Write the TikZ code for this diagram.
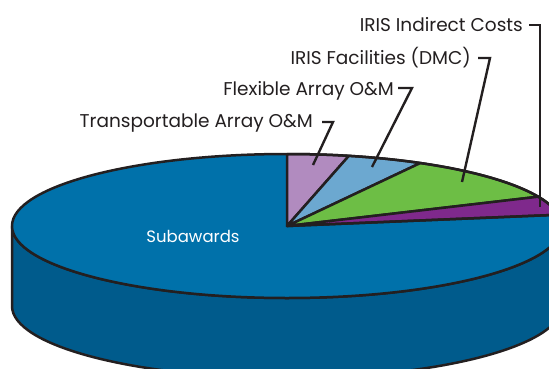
\documentclass[tikz,border=0pt]{standalone}
\usepackage{fontspec}
\setmainfont{Poppins}
\usetikzlibrary{calc}
\definecolor{subtop}{RGB}{0,113,170}
\definecolor{subside}{RGB}{0,91,140}
\definecolor{slicepink}{RGB}{177,139,191}
\definecolor{sliceblue}{RGB}{108,168,208}
\definecolor{slicegreen}{RGB}{109,190,69}
\definecolor{slicepurple}{RGB}{127,41,140}
\definecolor{ink}{RGB}{35,31,32}
\tikzset{
  outline/.style={draw=ink, line width=2.5pt, line join=round},
  leader/.style={draw=ink, line width=2.4pt, line join=miter},
  lbl/.style={font=\fontsize{18.5}{22}\selectfont, text=ink, inner sep=0pt, anchor=base east},
}
\begin{document}
\begin{tikzpicture}[x=1pt,y=1pt]
  \useasboundingbox (0,0) rectangle (549,368);
  \clip (0,0) rectangle (549,368);
  % geometry of the disc
  \def\rx{275}\def\ry{72}
  \coordinate (C) at (287,142);
  \coordinate (B) at (287,62);
  % side wall
  \path[fill=subside, outline]
    ([xshift=-\rx]C) -- ([xshift=-\rx]B)
    arc[start angle=180, end angle=360, x radius=\rx, y radius=\ry]
    -- ([xshift=\rx]C)
    arc[start angle=0, end angle=-180, x radius=\rx, y radius=\ry] -- cycle;
  % top face
  \path[fill=subtop] (C) ellipse[x radius=\rx, y radius=\ry];
  % small slices
  \path[fill=slicepink, outline] (C) -- ($(C)+(90:{\rx} and {\ry})$)
    arc[start angle=90, end angle=77, x radius=\rx, y radius=\ry] -- cycle;
  \path[fill=sliceblue, outline] (C) -- ($(C)+(77:{\rx} and {\ry})$)
    arc[start angle=77, end angle=61, x radius=\rx, y radius=\ry] -- cycle;
  \path[fill=slicegreen, outline] (C) -- ($(C)+(61:{\rx} and {\ry})$)
    arc[start angle=61, end angle=24, x radius=\rx, y radius=\ry] -- cycle;
  \path[fill=slicepurple, outline] (C) -- ($(C)+(24:{\rx} and {\ry})$)
    arc[start angle=24, end angle=9, x radius=\rx, y radius=\ry] -- cycle;
  \path[outline] (C) ellipse[x radius=\rx, y radius=\ry];
  \path[outline] (C) -- ($(C)+(9:{\rx} and {\ry})$);

  % labels
  \node[font=\fontsize{16.5}{20}\selectfont, text=white] (sub) at (193,132) {Subawards};
  \node[lbl] (lT) at (313,241) {Transportable Array O\&M};
  \node[lbl] (lF) at (394,273) {Flexible Array O\&M};
  \node[lbl] (lD) at (471,304) {IRIS Facilities (DMC)};
  \node[lbl] (lI) at (523,337) {IRIS Indirect Costs};

  % leader lines
  \coordinate (tT) at (322,246); \coordinate (kT) at (333,246); \coordinate (eT) at (313,203);
  \coordinate (tF) at (398,280); \coordinate (kF) at (412,280); \coordinate (eF) at (372,201);
  \coordinate (tD) at (478,310); \coordinate (kD) at (490,310); \coordinate (eD) at (462,186);
  \coordinate (tI) at (529,343); \coordinate (kI) at (540,343); \coordinate (eI) at (540,161);
  \draw[leader] (tT) -- (kT) -- (eT);
  \draw[leader] (tF) -- (kF) -- (eF);
  \draw[leader] (tD) -- (kD) -- (eD);
  \draw[leader] (tI) -- (kI) -- (eI);
\end{tikzpicture}
\end{document}
